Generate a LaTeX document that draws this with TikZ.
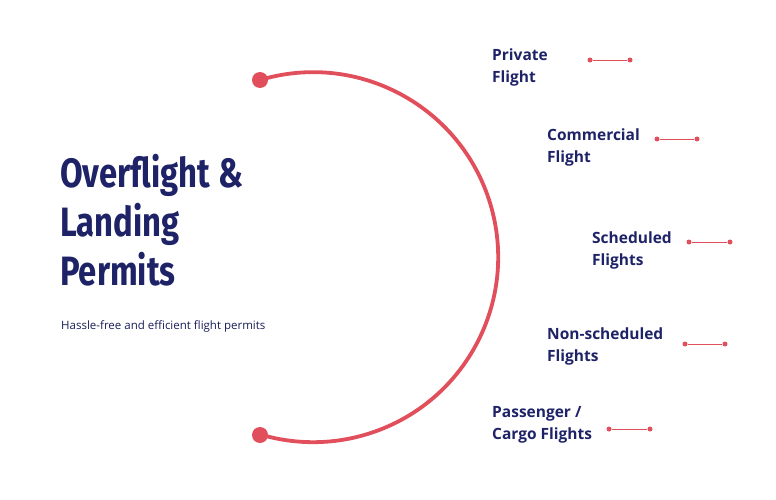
\documentclass[tikz,border=0pt]{standalone}
\usepackage{fontspec}
\setmainfont{Open Sans}
\newfontfamily\titlefont{Fira Sans}
\usepackage{tikz}
\usetikzlibrary{positioning}
\definecolor{navy}{HTML}{1E2266}
\definecolor{rosered}{HTML}{E24F5C}
\tikzset{
  kind/.style = {anchor=north west, align=left, text=navy, font=\fontsize{15.5}{22}\selectfont\bfseries, inner sep=0pt},
  tick/.style = {draw=rosered, line width=0.8pt},
  tickdot/.style = {circle, fill=rosered, inner sep=0pt, minimum size=5pt},
}

\begin{document}
\begin{tikzpicture}[x=1pt,y=-1pt]
		\useasboundingbox (0,0) rectangle (776,500);

		% the arc
		\draw [rosered, line width=3.8pt] (260,80) arc [start angle=-106.7, end angle=106.7, radius=185];
		\fill [rosered] (260,80) circle (8);
		\fill [rosered] (260,435) circle (8);

		% title
		\node (title) [anchor=north west, align=left, text=navy, inner sep=0pt,
			font=\titlefont\bfseries\fontsize{41}{49}\selectfont] at (60,154)
			{\scalebox{0.8}[1]{Overflight \&}\\\scalebox{0.8}[1]{Landing}\\\scalebox{0.8}[1]{Permits}};
		\node (sub) [anchor=west, text=navy!85!black, inner sep=0pt, font=\fontsize{11.5}{14}\selectfont] at (61,326)
			{Hassle-free and efficient flight permits};

		% permit kinds
		\node (private) [kind] at (492,49) {Private\\Flight};
		\node (commercial) [kind] at (547,129) {Commercial\\Flight};
		\node (scheduled) [kind] at (592,232) {Scheduled\\Flights};
		\node (nonsched) [kind] at (547,328) {Non-scheduled\\Flights};
		\node (cargo) [kind] at (492,406) {Passenger /\\Cargo Flights};

		\foreach \n/\xa/\xb/\y in {pa/590/630/60, pb/657/697/139, pc/689/730/242, pd/685/725/344, pe/609/650/429} {
			\node (\n l) [tickdot] at (\xa,\y) {};
			\node (\n r) [tickdot] at (\xb,\y) {};
			\draw [tick] (\n l) -- (\n r);
		}

\end{tikzpicture}
\end{document}
